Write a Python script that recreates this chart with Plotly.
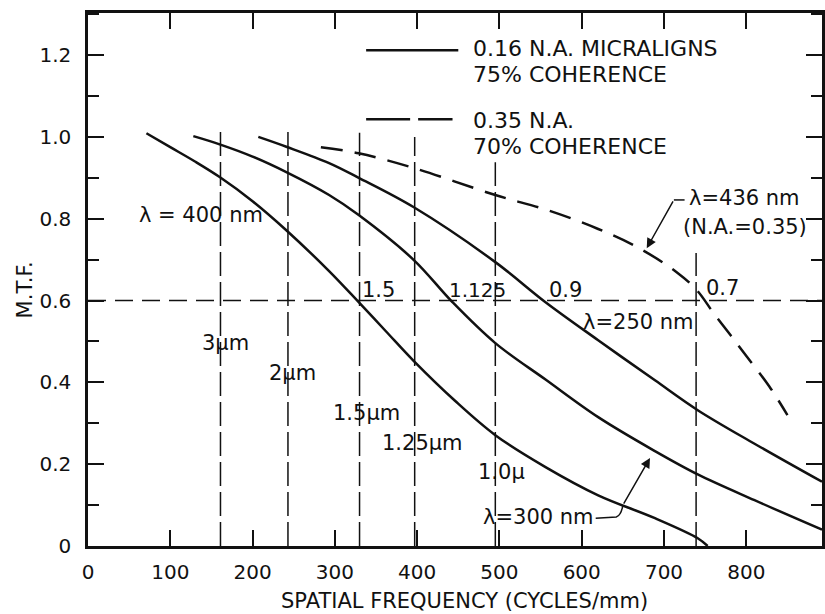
import plotly.graph_objects as go

# ---- data ----
freq_400 = [71, 100, 130, 160, 200, 241, 293, 329, 362, 396, 446, 495, 556, 620, 689, 741, 753]
mtf_400 = [1.009, 0.975, 0.94, 0.902, 0.843, 0.772, 0.672, 0.596, 0.525, 0.452, 0.355, 0.271, 0.193, 0.124, 0.068, 0.019, 0.0]

freq_300 = [128, 160, 200, 241, 293, 329, 396, 442, 495, 556, 620, 689, 741, 810, 892]
mtf_300 = [1.002, 0.982, 0.952, 0.914, 0.858, 0.809, 0.699, 0.598, 0.496, 0.407, 0.315, 0.232, 0.175, 0.112, 0.04]

freq_250 = [207, 241, 293, 329, 396, 495, 556, 620, 689, 741, 810, 892]
mtf_250 = [1.0, 0.976, 0.936, 0.90, 0.828, 0.694, 0.596, 0.503, 0.405, 0.332, 0.25, 0.157]

freq_436 = [283, 329, 396, 495, 560, 620, 668, 715, 740, 760, 781, 801, 828, 850]
mtf_436 = [0.975, 0.96, 0.924, 0.858, 0.82, 0.775, 0.73, 0.67, 0.625, 0.57, 0.515, 0.462, 0.39, 0.32]

guide_freq = [161, 243, 330, 397, 495, 739]
guide_top = [1.024, 1.012, 1.01, 1.0, 0.938, 0.716]
guide_mtf = 0.6

x_ticks = [0, 100, 200, 300, 400, 500, 600, 700, 800]
x_ticktext = ["0", "100", "200", "300", "400", "500", "600", "700", "800"]
y_ticks = [0, 0.2, 0.4, 0.6, 0.8, 1.0, 1.2]
y_ticktext = ["0", "0.2", "0.4", "0.6", "0.8", "1.0", "1.2"]

FONT = "DejaVu Sans"
FS = 20
BLACK = "#111111"

fig = go.Figure()

# guide lines
gx, gy = [], []
for f, t in zip(guide_freq, guide_top):
    gx += [f, f, None]
    gy += [0, t, None]
fig.add_trace(go.Scatter(x=gx, y=gy, mode="lines", showlegend=False, hoverinfo="skip",
                         line=dict(color=BLACK, width=1.5, dash="24px,6px")))
fig.add_trace(go.Scatter(x=[0, 892], y=[guide_mtf, guide_mtf], mode="lines", showlegend=False,
                         hoverinfo="skip", line=dict(color=BLACK, width=1.5, dash="18px,9px")))

# curves
for fx, my in [(freq_400, mtf_400), (freq_300, mtf_300), (freq_250, mtf_250)]:
    fig.add_trace(go.Scatter(x=fx, y=my, mode="lines", showlegend=False,
                             line=dict(color=BLACK, width=2.5, shape="spline", smoothing=1.0)))
fig.add_trace(go.Scatter(x=freq_436, y=mtf_436, mode="lines", showlegend=False,
                         line=dict(color=BLACK, width=2.5, dash="22px,12px", shape="spline", smoothing=1.0)))

ann = []
def txt(x, y, s, xanchor="center", size=21):
    ann.append(dict(x=x, y=y, xref="x", yref="y", text=s, showarrow=False, xanchor=xanchor,
                    yanchor="middle", font=dict(family=FONT, size=size, color=BLACK)))

# legend text
txt(466, 1.217, "0.16 N.A. MICRALIGNS", "left", 22)
txt(466, 1.153, "75% COHERENCE", "left", 22)
txt(466, 1.041, "0.35 N.A.", "left", 22)
txt(466, 0.977, "70% COHERENCE", "left", 22)

# curve labels
txt(137, 0.809, "λ = 400 nm")
txt(353, 0.626, "1.5")
txt(473, 0.626, "1.125", size=20)
txt(580, 0.626, "0.9")
txt(771, 0.630, "0.7")
txt(669, 0.547, "λ=250 nm")
txt(167, 0.496, "3µm")
txt(248, 0.423, "2µm")
txt(338, 0.325, "1.5µm")
txt(407, 0.252, "1.25µm")
txt(502, 0.181, "1.0µ")
txt(548, 0.071, "λ=300 nm")
txt(798, 0.850, "λ=436 nm")
txt(798, 0.780, "(N.A.=0.35)")

# arrows
ann.append(dict(x=679, y=0.728, ax=712, ay=0.846, xref="x", yref="y", axref="x", ayref="y",
                text="", showarrow=True, arrowhead=2, arrowsize=1.3, arrowwidth=1.5, arrowcolor=BLACK))
ann.append(dict(x=683, y=0.215, ax=650, ay=0.10, xref="x", yref="y", axref="x", ayref="y",
                text="", showarrow=True, arrowhead=2, arrowsize=1.3, arrowwidth=1.5, arrowcolor=BLACK))

# axis titles
ann.append(dict(x=0.5127, y=-0.1025, xref="paper", yref="paper", text="SPATIAL FREQUENCY (CYCLES/mm)",
                showarrow=False, xanchor="center", yanchor="middle",
                font=dict(family=FONT, size=21, color=BLACK)))
ann.append(dict(x=-0.0855, y=0.48, xref="paper", yref="paper", text="M.T.F.", textangle=-90,
                showarrow=False, xanchor="center", yanchor="middle",
                font=dict(family=FONT, size=21, color=BLACK)))

shapes = [
    # legend samples
    dict(type="line", xref="x", yref="y", x0=338, x1=450, y0=1.212, y1=1.212,
         line=dict(color=BLACK, width=2.5)),
    dict(type="line", xref="x", yref="y", x0=338, x1=443, y0=1.043, y1=1.043,
         line=dict(color=BLACK, width=2.5, dash="44px,8px")),
    # leaders
    dict(type="line", xref="x", yref="y", x0=712, x1=725, y0=0.846, y1=0.846,
         line=dict(color=BLACK, width=1.5)),
    dict(type="path", xref="x", yref="y", path="M 617,0.068 L 642,0.071 Q 648,0.075 650,0.10",
         line=dict(color=BLACK, width=1.5)),
]

fig.update_layout(
    width=825, height=614,
    margin=dict(l=88, r=0, t=13, b=68),
    paper_bgcolor="white", plot_bgcolor="white",
    font=dict(family=FONT, size=FS, color=BLACK),
    annotations=ann, shapes=shapes,
    xaxis=dict(range=[0, 892], showgrid=False, zeroline=False, showline=True, linewidth=2.5,
               linecolor=BLACK, mirror="allticks", ticks="inside", ticklen=16, tickwidth=2,
               tickcolor=BLACK, tickvals=x_ticks, ticktext=x_ticktext, ticklabelstandoff=6,
               tickfont=dict(family=FONT, size=FS, color=BLACK)),
    yaxis=dict(range=[0, 1.303], showgrid=False, zeroline=False, showline=True, linewidth=2.5,
               linecolor=BLACK, mirror="allticks", ticks="inside", ticklen=16, tickwidth=2,
               tickcolor=BLACK, tickvals=y_ticks, ticktext=y_ticktext, ticklabelstandoff=10,
               tickfont=dict(family=FONT, size=FS, color=BLACK),
               minor=dict(dtick=0.1, tick0=0, ticks="inside", ticklen=11, tickwidth=2, tickcolor=BLACK)),
)

fig.write_html("out.html")
